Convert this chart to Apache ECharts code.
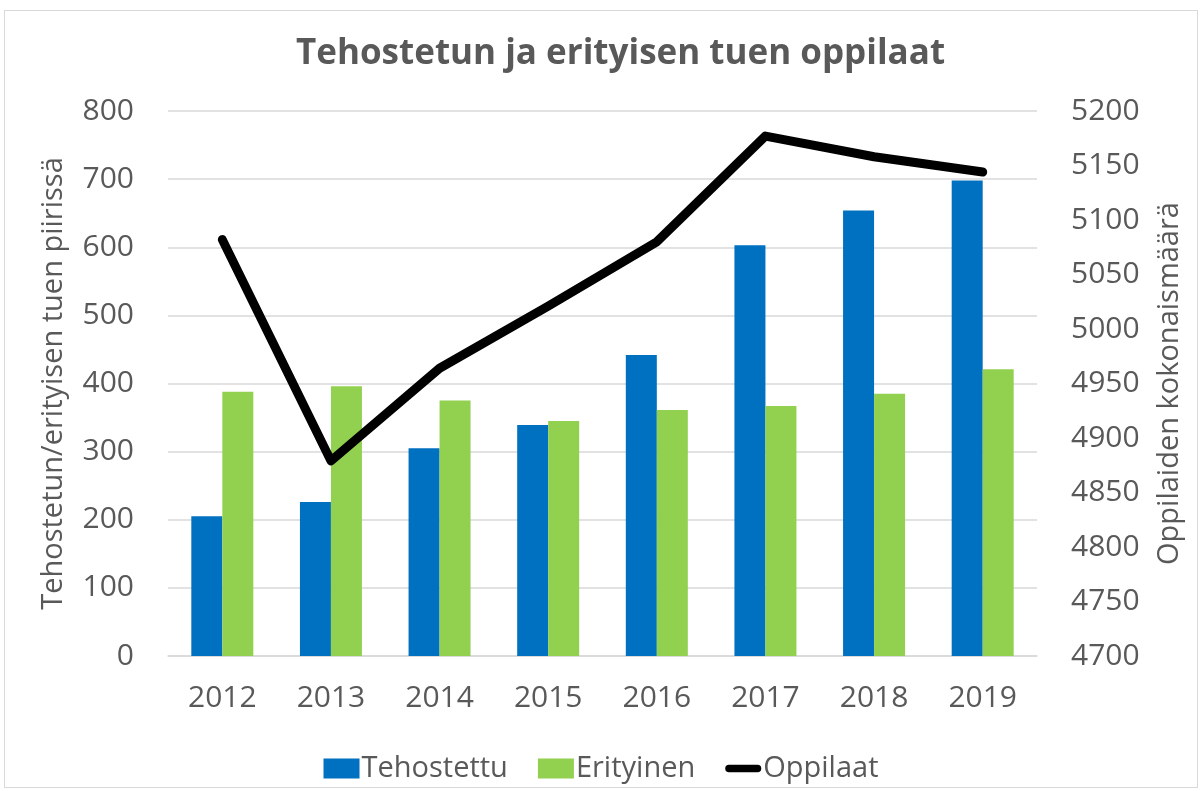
<!DOCTYPE html>
<html>
<head>
<meta charset="utf-8">
<script src="https://cdn.jsdelivr.net/npm/echarts@6/dist/echarts.min.js"></script>
<style>
  html, body { margin: 0; padding: 0; background: #fff; }
  #chart { position: absolute; left: 4px; top: 10px; width: 1194px; height: 778px; border: 1px solid #d9d9d9; box-sizing: border-box; }
</style>
</head>
<body>
<div id="chart"></div>
<script>
const years = ["2012", "2013", "2014", "2015", "2016", "2017", "2018", "2019"];
const tehostettu = [205, 226, 305, 339, 442, 603, 654, 698];
const erityinen = [388, 396, 375, 345, 361, 367, 385, 421];
const oppilaat = [5082, 4879, 4964, 5021, 5080, 5177, 5158, 5144];

const textColor = "#595959";
const fontFamily = "'Open Sans', sans-serif";

const myChart = echarts.init(document.getElementById("chart"));

const option = {
  animation: false,
  title: {
    text: "Tehostetun ja erityisen tuen oppilaat",
    left: 286,
    top: 21,
    textStyle: {
      color: textColor,
      fontSize: 35,
      fontWeight: "bold",
      fontFamily: fontFamily,
    },
  },
  legend: {
    top: 738,
    left: "center",
    itemGap: 30,
    itemWidth: 36,
    itemHeight: 20,
    textStyle: { color: textColor, fontSize: 29, fontFamily: fontFamily, padding: [0, 0, 0, -3] },
    data: [
      { name: "Tehostettu", icon: "rect" },
      { name: "Erityinen", icon: "rect" },
      { name: "Oppilaat", icon: "path://M4.5,0 H38.5 A4.5,4.5 0 0 1 38.5,9 H4.5 A4.5,4.5 0 0 1 4.5,0 Z" },
    ],
  },
  grid: {
    left: 163,
    right: 160,
    top: 100,
    bottom: 131,
  },
  xAxis: {
    type: "category",
    data: years,
    axisTick: { show: false },
    axisLine: { lineStyle: { color: "#d9d9d9", width: 1.5 } },
    axisLabel: { color: textColor, fontSize: 30, fontFamily: fontFamily, margin: 27 },
  },
  yAxis: [
    {
      type: "value",
      min: 0,
      max: 800,
      interval: 100,
      name: "Tehostetun/erityisen tuen piirissä",
      nameLocation: "middle",
      nameGap: 100,
      nameTextStyle: { color: textColor, fontSize: 29, fontFamily: fontFamily },
      axisLine: { show: false },
      axisTick: { show: false },
      axisLabel: { color: textColor, fontSize: 30, fontFamily: fontFamily, margin: 34 },
      splitLine: { lineStyle: { color: "#d9d9d9", width: 1.5 } },
    },
    {
      type: "value",
      min: 4700,
      max: 5200,
      interval: 50,
      name: "Oppilaiden kokonaismäärä",
      nameLocation: "middle",
      nameGap: 118,
      nameTextStyle: { color: textColor, fontSize: 29, fontFamily: fontFamily },
      axisLine: { show: false },
      axisTick: { show: false },
      axisLabel: {
        color: textColor,
        fontSize: 30,
        fontFamily: fontFamily,
        margin: 34,
        formatter: function (value) {
          return String(value);
        },
      },
      splitLine: { show: false },
    },
  ],
  series: [
    {
      name: "Tehostettu",
      type: "bar",
      yAxisIndex: 0,
      data: tehostettu,
      barWidth: 31,
      barGap: "0%",
      itemStyle: { color: "#0070C0" },
    },
    {
      name: "Erityinen",
      type: "bar",
      yAxisIndex: 0,
      data: erityinen,
      barWidth: 31,
      barGap: "0%",
      itemStyle: { color: "#92D050" },
    },
    {
      name: "Oppilaat",
      type: "line",
      yAxisIndex: 1,
      data: oppilaat,
      symbol: "none",
      itemStyle: { color: "#000000" },
      lineStyle: { color: "#000000", width: 9, cap: "round", join: "round" },
      z: 5,
    },
  ],
};

option && myChart.setOption(option);
</script>
</body>
</html>
